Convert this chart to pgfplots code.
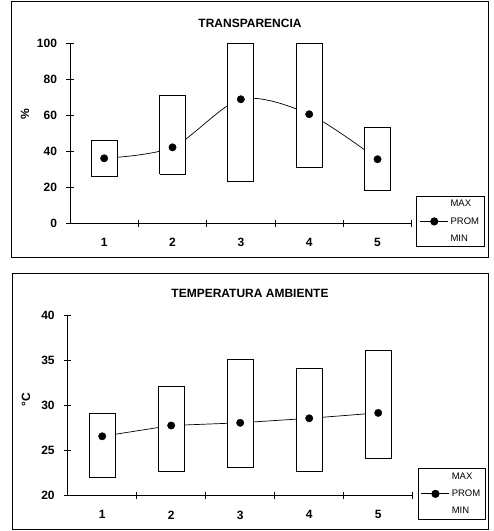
\documentclass[border=0pt]{standalone}
\usepackage{fontspec}
\setmainfont{Liberation Sans}
\usepackage{pgfplots}
\usepackage{pgfplotstable}
\pgfplotsset{compat=1.18}

% Mean value per station
\pgfplotstableread{
est prom
1 36.1
2 42.2
3 68.9
4 60.6
5 35.6
}\transp
\pgfplotstableread{
est prom
1 26.6
2 27.8
3 28.1
4 28.6
5 29.2
}\temp

\pgfplotsset{
  rangeaxis/.style={
    scale only axis, xmin=0.5, xmax=5.5, clip=false,
    axis x line*=bottom, axis y line*=left,
    axis line style={line width=0.9pt},
    xtick={1,2,3,4,5},
    minor xtick={1.5,2.5,3.5,4.5,5.5},
    major x tick style={draw=none},
    minor tick length=7pt, major tick length=7pt,
    tick align=center,
    tick style={line width=0.8pt, black},
    tick label style={font=\bfseries\fontsize{12}{14}\selectfont},
    yticklabel style={xshift=-6pt},
    xticklabel style={yshift=-8pt},
    /pgf/number format/assume math mode=true,
    legend style={draw=black, line width=0.8pt, fill=white,
      font=\fontsize{9.5}{11}\selectfont, legend cell align=left,
      row sep=5pt, inner xsep=3pt, inner ysep=2pt},
    legend image code/.code={%
      \draw[mark repeat=2,mark phase=2,##1]
        plot coordinates {(0pt,0pt) (14pt,0pt) (28pt,0pt)};},
  },
  % MIN-MAX range box, drawn over the mean line
  rangebox/.style={draw=black, fill=white, line width=0.8pt,
    line cap=square, forget plot},
  promline/.style={black, line width=0.7pt},
  promdots/.style={only marks, mark=*, mark size=3.7pt,
    mark options={fill=black, draw=black}, forget plot},
  blankentry/.style={draw opacity=0, line width=0pt},
}

\begin{document}
\begin{tikzpicture}
\path[use as bounding box] (0pt,0pt) rectangle (494pt,531pt);

% Frames around each chart
\draw[line width=1pt] (11.7pt,273.7pt) rectangle (488.3pt,529.3pt);
\draw[line width=1pt] (12pt,1.7pt) rectangle (488pt,257.7pt);

% Titles and axis labels
\node[font=\bfseries\fontsize{12}{14}\selectfont] at (250pt,507.7pt) {TRANSPARENCIA};
\node[font=\bfseries\fontsize{12}{14}\selectfont] at (250pt,237.2pt) {TEMPERATURA AMBIENTE};
\node[font=\bfseries\fontsize{12}{14}\selectfont, rotate=90] at (25pt,417pt) {\%};
\node[font=\bfseries\fontsize{12}{14}\selectfont, rotate=90] at (26pt,131pt) {°C};

% ---------- Transparency ----------
\begin{axis}[rangeaxis, at={(70pt,307.7pt)}, anchor=south west,
  width=341.7pt, height=180pt,
  ymin=0, ymax=100, ytick={0,20,40,60,80,100},
  legend style={at={(1.014,0.152)}, anchor=north west},
]
\addplot[promline, smooth, forget plot] table[x=est, y=prom] {\transp};
\addplot[rangebox] coordinates {(0.81,26.3) (1.19,26.3) (1.19,46.3) (0.81,46.3) (0.81,26.3)};
\addplot[rangebox] coordinates {(1.81,27.2) (2.19,27.2) (2.19,71.3) (1.81,71.3) (1.81,27.2)};
\addplot[rangebox] coordinates {(2.81,23.1) (3.19,23.1) (3.19,100) (2.81,100) (2.81,23.1)};
\addplot[rangebox] coordinates {(3.81,30.9) (4.19,30.9) (4.19,100) (3.81,100) (3.81,30.9)};
\addplot[rangebox] coordinates {(4.81,18.1) (5.19,18.1) (5.19,53.1) (4.81,53.1) (4.81,18.1)};
\addplot[promdots] table[x=est, y=prom] {\transp};
\addlegendimage{blankentry}
\addlegendentry{MAX}
\addlegendimage{promline, mark=*, mark size=3.7pt, mark options={fill=black}}
\addlegendentry{PROM}
\addlegendimage{blankentry}
\addlegendentry{MIN}
\end{axis}

% ---------- Ambient temperature ----------
\begin{axis}[rangeaxis, at={(67.7pt,35.3pt)}, anchor=south west,
  width=345pt, height=180pt,
  ymin=20, ymax=40, ytick={20,25,30,35,40},
  legend style={at={(1.0145,0.152)}, anchor=north west},
]
\addplot[promline, forget plot] table[x=est, y=prom] {\temp};
\addplot[rangebox] coordinates {(0.81,22.0) (1.19,22.0) (1.19,29.2) (0.81,29.2) (0.81,22.0)};
\addplot[rangebox] coordinates {(1.81,22.7) (2.19,22.7) (2.19,32.1) (1.81,32.1) (1.81,22.7)};
\addplot[rangebox] coordinates {(2.81,23.1) (3.19,23.1) (3.19,35.1) (2.81,35.1) (2.81,23.1)};
\addplot[rangebox] coordinates {(3.81,22.7) (4.19,22.7) (4.19,34.1) (3.81,34.1) (3.81,22.7)};
\addplot[rangebox] coordinates {(4.81,24.1) (5.19,24.1) (5.19,36.1) (4.81,36.1) (4.81,24.1)};
\addplot[promdots] table[x=est, y=prom] {\temp};
\addlegendimage{blankentry}
\addlegendentry{MAX}
\addlegendimage{promline, mark=*, mark size=3.7pt, mark options={fill=black}}
\addlegendentry{PROM}
\addlegendimage{blankentry}
\addlegendentry{MIN}
\end{axis}
\end{tikzpicture}
\end{document}
